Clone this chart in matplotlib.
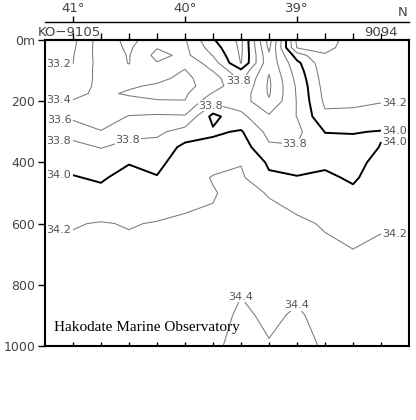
import numpy as np
import matplotlib
matplotlib.use('Agg')
import matplotlib.pyplot as plt

# ── Station grid: KO-9105 (41.00N) ... 9094 (38.25N), every 0.25 deg ─────────
lats   = [41.00, 40.75, 40.50, 40.25, 40.00, 39.75, 39.50, 39.25, 39.00, 38.75, 38.50, 38.25]
depths = [0, 25, 50, 75, 100, 125, 150, 175, 200, 250, 300, 350, 400, 450, 500, 600, 700, 800, 900, 1000]

# salinity profiles (psu), one list per station, values at `depths`
sal_4100 = [33.15, 33.17, 33.19, 33.198, 33.22, 33.26, 33.30, 33.36, 33.41, 33.56, 33.72, 33.86, 33.95, 34.01, 34.07, 34.19, 34.24, 34.27, 34.29, 34.30]
sal_4075 = [33.50, 33.50, 33.49, 33.48, 33.48, 33.46, 33.45, 33.434, 33.44, 33.50, 33.61, 33.79, 33.92, 33.98, 34.04, 34.21, 34.25, 34.27, 34.29, 34.30]
sal_4050 = [33.35, 33.37, 33.39, 33.395, 33.43, 33.44, 33.42, 33.38, 33.45, 33.61, 33.74, 33.86, 33.99, 34.06, 34.10, 34.19, 34.24, 34.27, 34.29, 34.30]
sal_4025 = [33.50, 33.59, 33.66, 33.59, 33.50, 33.44, 33.38, 33.36, 33.41, 33.63, 33.76, 33.87, 33.95, 34.01, 34.08, 34.21, 34.25, 34.27, 34.29, 34.30]
sal_4000 = [33.58, 33.56, 33.55, 33.45, 33.39, 33.36, 33.35, 33.37, 33.405, 33.62, 33.88, 34.05, 34.10, 34.13, 34.16, 34.22, 34.25, 34.27, 34.29, 34.30]
sal_3975 = [33.98, 33.90, 33.81, 33.70, 33.61, 33.50, 33.48, 33.62, 33.75, 34.06, 33.97, 34.06, 34.15, 34.21, 34.19, 34.22, 34.26, 34.29, 34.33, 34.36]
sal_3950 = [34.25, 34.24, 34.23, 34.21, 33.96, 33.85, 33.79, 33.72, 33.70, 33.85, 34.02, 34.10, 34.19, 34.23, 34.25, 34.28, 34.33, 34.38, 34.43, 34.47]
sal_3925 = [33.30, 33.36, 33.43, 33.45, 33.42, 33.38, 33.37, 33.38, 33.42, 33.63, 33.74, 33.83, 33.97, 34.03, 34.19, 34.25, 34.30, 34.33, 34.37, 34.41]
sal_3900 = [34.45, 34.41, 34.10, 33.95, 33.90, 33.86, 33.83, 33.82, 33.81, 33.805, 33.75, 33.81, 33.93, 34.01, 34.10, 34.24, 34.29, 34.36, 34.42, 34.46]
sal_3875 = [34.45, 34.43, 34.39, 34.34, 34.32, 34.30, 34.28, 34.26, 34.24, 34.16, 34.005, 33.93, 33.96, 34.04, 34.09, 34.18, 34.25, 34.30, 34.35, 34.38]
sal_3850 = [34.35, 34.35, 34.34, 34.33, 34.31, 34.29, 34.27, 34.25, 34.23, 34.16, 34.01, 33.94, 33.93, 33.97, 34.04, 34.15, 34.21, 34.26, 34.30, 34.33]
sal_3825 = [34.33, 34.33, 34.32, 34.31, 34.30, 34.28, 34.26, 34.23, 34.21, 34.12, 33.99, 34.005, 34.07, 34.11, 34.14, 34.19, 34.22, 34.26, 34.30, 34.33]

profiles = [sal_4100, sal_4075, sal_4050, sal_4025, sal_4000, sal_3975,
            sal_3950, sal_3925, sal_3900, sal_3875, sal_3850, sal_3825]

thin_levels = [33.2, 33.4, 33.6, 33.8, 34.2, 34.4]
bold_levels = [34.0]
depth_ticks  = [0, 200, 400, 600, 800, 1000]
depth_labels = ['0m', '200', '400', '600', '800', '1000']
lat_ticks  = [41, 40, 39]
lat_labels = ['41°', '40°', '39°']

GREY = '#7a7a7a'
TXT  = '#555555'

sal = np.column_stack(profiles)


def crossings(profile, level):
    """depths where a profile crosses a contour level (linear)"""
    out = []
    for i in range(len(profile) - 1):
        a, b = profile[i], profile[i + 1]
        if (a - level) * (b - level) < 0:
            out.append(depths[i] + (level - a) / (b - a) * (depths[i + 1] - depths[i]))
    return out


fig = plt.figure(figsize=(4.16, 4.20), dpi=100)
ax = fig.add_axes([45/416, 1 - 346/420, 364/416, 306/420])

# one contour set per level so single levels can be labelled by hand
sets = {}
for lev in thin_levels:
    sets[lev] = ax.contour(lats, depths, sal, levels=[lev], colors=GREY, linewidths=0.75)
for lev in bold_levels:
    sets[lev] = ax.contour(lats, depths, sal, levels=[lev], colors='black', linewidths=1.4)

ax.set_xlim(41.25, 38.0)
ax.set_ylim(1000, 0)

# level labels at both ends of the section
half = (lats[0] - lats[1]) / 2
for lev in thin_levels + bold_levels:
    for d in crossings(sal_4100, lev):
        ax.text(lats[0] + half, d, f'{lev:.1f}', ha='center', va='center',
                fontsize=8, color=TXT, clip_on=False)
    for d in crossings(sal_3825, lev):
        ax.text(lats[-1] - half, d, f'{lev:.1f}', ha='center', va='center',
                fontsize=8, color=TXT, clip_on=False)

# a few labels inside the section
lbls = ax.clabel(sets[33.8], inline=False, fontsize=8, colors=TXT, fmt='%.1f',
                 manual=[(40.51, 327), (39.80, 203), (39.53, 135), (39.03, 365)])
lbls += ax.clabel(sets[34.4], inline=False, fontsize=8, colors=TXT, fmt='%.1f',
                  manual=[(39.50, 825), (39.02, 850)])
for t in lbls:
    t.set_rotation(0)
    t.set_bbox(dict(fc='white', ec='none', pad=0.2))

# depth axis
ax.set_yticks(depth_ticks)
ax.set_yticklabels(depth_labels)
ax.tick_params(axis='y', direction='out', length=5, width=1, labelsize=9,
               labelcolor='#444444', pad=2)

# station ticks: inward at the bottom, outward on top
ax.set_xticks(lats)
ax.set_xticklabels([])
ax.tick_params(axis='x', direction='in', length=3, width=1)
top = ax.secondary_xaxis('top')
top.set_xticks(lats)
top.set_xticklabels([])
top.tick_params(direction='out', length=5, width=1)
top.spines['top'].set_linewidth(1.5)

# latitude scale above the stations
latax = ax.secondary_xaxis(1 + 18/306)
latax.set_xticks(lat_ticks)
latax.set_xticklabels(lat_labels)
latax.tick_params(direction='out', length=4, width=1, labelsize=9.5,
                  labelcolor='#444444', pad=1)
latax.spines['top'].set_linewidth(1.0)

for sp in ax.spines.values():
    sp.set_linewidth(1.5)

ax.text(0.983, 1 + 28/306, 'N', transform=ax.transAxes, ha='center', va='center',
        fontsize=9.5, color='#444444')
ax.text(-0.02, 1 + 8/306, 'KO−9105', transform=ax.transAxes, ha='left', va='center',
        fontsize=9.5, color='#444444')
ax.text(0.97, 1 + 8/306, '9094', transform=ax.transAxes, ha='right', va='center',
        fontsize=9.5, color='#444444')
ax.text(0.025, 19/306, 'Hakodate Marine Observatory', transform=ax.transAxes,
        ha='left', va='center', fontsize=11, family='Liberation Serif', color='black')

fig.savefig('out.png', dpi=100, facecolor='white')
